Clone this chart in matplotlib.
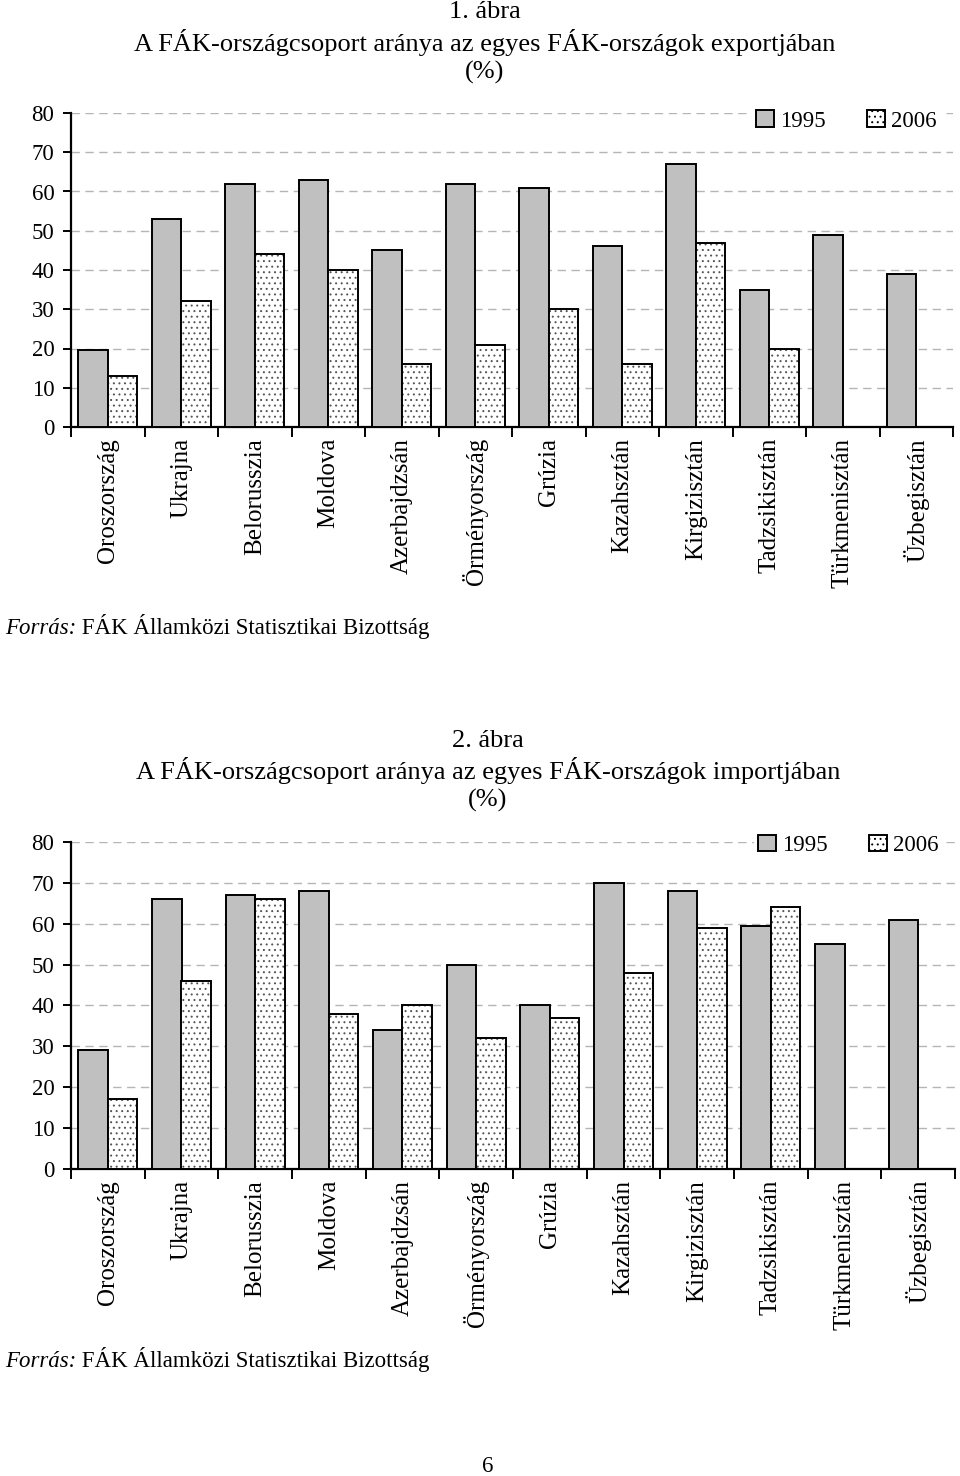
import matplotlib
matplotlib.use("Agg")
import matplotlib.pyplot as plt
import numpy as np
from matplotlib.patches import Patch

plt.rcParams['font.family'] = ['Liberation Serif', 'DejaVu Serif']
plt.rcParams['hatch.linewidth'] = 0.7

countries = ["Oroszország", "Ukrajna", "Belorusszia", "Moldova", "Azerbajdzsán",
             "Örményország", "Grúzia", "Kazahsztán", "Kirgizisztán", "Tadzsikisztán",
             "Türkmenisztán", "Üzbegisztán"]

export_1995 = [19.5, 53, 62, 63, 45, 62, 61, 46, 67, 35, 49, 39]
export_2006 = [13, 32, 44, 40, 16, 21, 30, 16, 47, 20, np.nan, np.nan]

import_1995 = [29, 66, 67, 68, 34, 50, 40, 70, 68, 59.5, 55, 61]
import_2006 = [17, 46, 66, 38, 40, 32, 37, 48, 59, 64, np.nan, np.nan]

series_labels = ["1995", "2006"]
yticks = [0, 10, 20, 30, 40, 50, 60, 70, 80]

source_text_italic = "Forrás:"
source_text = " FÁK Államközi Statisztikai Bizottság"

fig = plt.figure(figsize=(9.6, 14.76), dpi=100)

W, H = 960.0, 1476.0


def make_chart(rect, v95, v06, legend_y):
    ax = fig.add_axes(rect)
    x = np.arange(len(countries))
    w = 0.4
    ax.bar(x - w / 2, v95, width=w, color='#c0c0c0', edgecolor='black',
           linewidth=1.4, zorder=3)
    ax.bar(x + w / 2, v06, width=w, color='white', edgecolor='#555555',
           hatch='...', linewidth=0, zorder=3)
    ax.bar(x + w / 2, v06, width=w, fill=False, edgecolor='black',
           linewidth=1.4, zorder=4)
    ax.set_xlim(-0.5, len(countries) - 0.5)
    ax.set_ylim(0, 80)
    ax.set_yticks(yticks)
    ax.tick_params(axis='y', labelsize=16.5, length=6, width=1.4, direction='out', pad=6)
    for s in ['top', 'right']:
        ax.spines[s].set_visible(False)
    for s in ['left', 'bottom']:
        ax.spines[s].set_linewidth(1.6)
    ax.yaxis.grid(True, linestyle=(0, (6, 4)), color='#b5b5b5', linewidth=1.0, zorder=0)
    ax.set_axisbelow(True)
    ax.set_xticks(np.arange(-0.5, len(countries) + 0.5, 1.0))
    ax.set_xticklabels([])
    ax.tick_params(axis='x', which='major', length=7, width=1.4, direction='out')
    ax.set_xticks(x, minor=True)
    ax.set_xticklabels(countries, minor=True, rotation=90, fontsize=18)
    ax.tick_params(axis='x', which='minor', length=0, pad=8)
    h1 = Patch(facecolor='#c0c0c0', edgecolor='black', linewidth=1.4)
    h2 = Patch(facecolor='white', edgecolor='black', hatch='...', linewidth=1.4)
    leg = ax.legend([h1, h2], series_labels, ncol=2, loc='center right',
                    bbox_to_anchor=(1.0, legend_y), frameon=True, fancybox=False,
                    edgecolor='none', facecolor='white', framealpha=1,
                    fontsize=16.5, handlelength=0.75, handleheight=0.75,
                    handletextpad=0.3, columnspacing=1.8, borderpad=0.2)
    leg.set_zorder(5)
    return ax


ax1 = make_chart([71 / W, 1 - 427 / H, 882 / W, 314 / H], export_1995, export_2006, 0.975)
ax2 = make_chart([71 / W, 1 - 1168.7 / H, 884 / W, 326.7 / H], import_1995, import_2006, 0.99)

# titles
fig.text(485 / W, 1 - 12 / H, "1. ábra", ha='center', va='center', fontsize=19)
fig.text(485 / W, 1 - 42 / H, "A FÁK-országcsoport aránya az egyes FÁK-országok exportjában",
         ha='center', va='center', fontsize=19)
fig.text(485 / W, 1 - 72 / H, "(%)", ha='center', va='center', fontsize=19)

fig.text(488 / W, 1 - 741 / H, "2. ábra", ha='center', va='center', fontsize=19)
fig.text(488 / W, 1 - 770 / H, "A FÁK-országcsoport aránya az egyes FÁK-országok importjában",
         ha='center', va='center', fontsize=19)
fig.text(488 / W, 1 - 800 / H, "(%)", ha='center', va='center', fontsize=19)


def source(y):
    t = fig.text(5 / W, 1 - y / H, source_text_italic, ha='left', va='baseline',
                 fontsize=16.5, style='italic')
    fig.canvas.draw()
    bb = t.get_window_extent()
    fig.text(bb.x1 / W, 1 - y / H, source_text, ha='left', va='baseline', fontsize=16.5)


source(634)
source(1367)

fig.text(488 / W, 1 - 1466 / H, "6", ha='center', va='center', fontsize=16.5)

fig.savefig("out.png", dpi=100)
